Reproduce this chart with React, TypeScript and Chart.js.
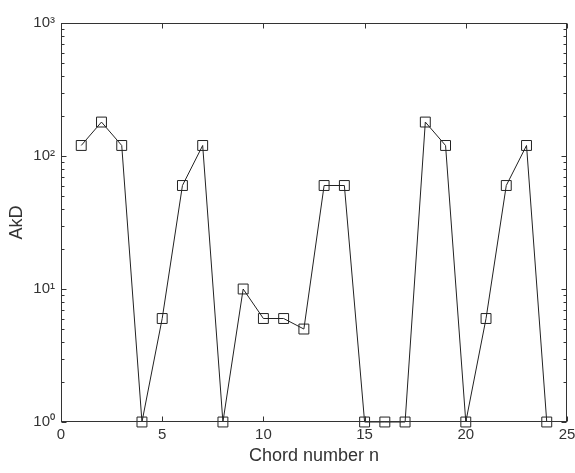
import React, { useEffect, useRef } from 'react';
import { Chart, registerables } from 'chart.js';

Chart.register(...registerables);

const chordNumbers = [1, 2, 3, 4, 5, 6, 7, 8, 9, 10, 11, 12, 13, 14, 15, 16, 17, 18, 19, 20, 21, 22, 23, 24];
const akdValues = [120, 180, 120, 1, 6, 60, 120, 1, 10, 6, 6, 5, 60, 60, 1, 1, 1, 180, 120, 1, 6, 60, 120, 1];
const xTickValues = [0, 5, 10, 15, 20, 25];
const yTickValues = [1, 10, 100, 1000];
const yTickLabels = ['10\u2070', '10\u00B9', '10\u00B2', '10\u00B3'];
const xTitle = 'Chord number n';
const yTitle = 'AkD';

const FONT = '"Liberation Sans", Arial, Helvetica, sans-serif';
const INK = '#333333';

const boxTicksPlugin = {
  id: 'boxTicks',
  afterDraw(chart: any) {
    const { ctx, chartArea, scales } = chart;
    const { left, right, top, bottom } = chartArea;
    const xs = scales.x;
    const ys = scales.y;
    ctx.save();
    ctx.strokeStyle = INK;
    ctx.lineWidth = 1;
    const L = Math.round(left) + 0.5;
    const R = Math.round(right) - 0.5;
    const T = Math.round(top) + 0.5;
    const B = Math.round(bottom) - 0.5;
    ctx.strokeRect(L, T, R - L, B - T);
    ctx.beginPath();
    for (const v of xTickValues) {
      const px = Math.round(xs.getPixelForValue(v)) + 0.5;
      ctx.moveTo(px, B);
      ctx.lineTo(px, B - 5);
      ctx.moveTo(px, T);
      ctx.lineTo(px, T + 5);
    }
    for (const v of yTickValues) {
      const py = Math.round(ys.getPixelForValue(v)) + 0.5;
      ctx.moveTo(L, py);
      ctx.lineTo(L + 5, py);
      ctx.moveTo(R, py);
      ctx.lineTo(R - 5, py);
    }
    for (const d of [1, 10, 100]) {
      for (let m = 2; m <= 9; m++) {
        const py = Math.round(ys.getPixelForValue(d * m)) + 0.5;
        ctx.moveTo(L, py);
        ctx.lineTo(L + 3, py);
        ctx.moveTo(R, py);
        ctx.lineTo(R - 3, py);
      }
    }
    ctx.stroke();
    ctx.restore();
  },
};

export default function App() {
  const canvasRef = useRef<HTMLCanvasElement | null>(null);

  useEffect(() => {
    const canvas = canvasRef.current;
    if (!canvas) return;
    const data = chordNumbers.map((n, i) => ({ x: n, y: akdValues[i] }));
    const chart = new Chart(canvas, {
      type: 'scatter',
      data: {
        datasets: [
          {
            data,
            showLine: true,
            borderColor: '#222222',
            borderWidth: 1,
            backgroundColor: 'rgba(0,0,0,0)',
            pointStyle: 'rect',
            pointRadius: 7,
            pointBorderWidth: 1,
            pointBorderColor: '#222222',
            pointBackgroundColor: 'rgba(0,0,0,0)',
            clip: false,
          } as any,
        ],
      },
      options: {
        animation: false,
        responsive: false,
        maintainAspectRatio: false,
        layout: { padding: { top: 23, right: 6, left: 0, bottom: 0 } },
        plugins: {
          legend: { display: false },
          tooltip: { enabled: false },
        },
        scales: {
          x: {
            type: 'linear',
            min: 0,
            max: 25,
            afterBuildTicks: (scale: any) => {
              scale.ticks = xTickValues.map((v) => ({ value: v }));
            },
            afterFit: (scale: any) => {
              scale.height = 51;
              scale.paddingLeft = 0;
              scale.paddingRight = 0;
            },
            grid: { display: false, drawTicks: false },
            border: { display: false },
            ticks: {
              color: INK,
              padding: 4,
              maxRotation: 0,
              font: { family: FONT, size: 15 },
              callback: (v: any) => String(v),
            },
            title: {
              display: true,
              text: xTitle,
              color: INK,
              font: { family: FONT, size: 18 },
              padding: { top: 0, bottom: 6 },
            },
          },
          y: {
            type: 'logarithmic',
            min: 1,
            max: 1000,
            afterBuildTicks: (scale: any) => {
              scale.ticks = yTickValues.map((v) => ({ value: v }));
            },
            afterFit: (scale: any) => {
              scale.width = 61;
              scale.paddingTop = 0;
              scale.paddingBottom = 0;
            },
            grid: { display: false, drawTicks: false },
            border: { display: false },
            ticks: {
              color: INK,
              padding: 6,
              font: { family: FONT, size: 15 },
              callback: (v: any) => {
                const i = yTickValues.indexOf(Number(v));
                return i >= 0 ? yTickLabels[i] : '';
              },
            },
            title: {
              display: true,
              text: yTitle,
              color: INK,
              font: { family: FONT, size: 18 },
              padding: { top: 6, bottom: 0 },
            },
          },
        },
      } as any,
      plugins: [boxTicksPlugin],
    });
    return () => chart.destroy();
  }, []);

  return (
    <div style={{ position: 'fixed', left: 0, top: 0, width: 575, height: 473, background: '#fff' }}>
      <canvas ref={canvasRef} width={575} height={473} style={{ width: 575, height: 473, display: 'block' }} />
    </div>
  );
}
